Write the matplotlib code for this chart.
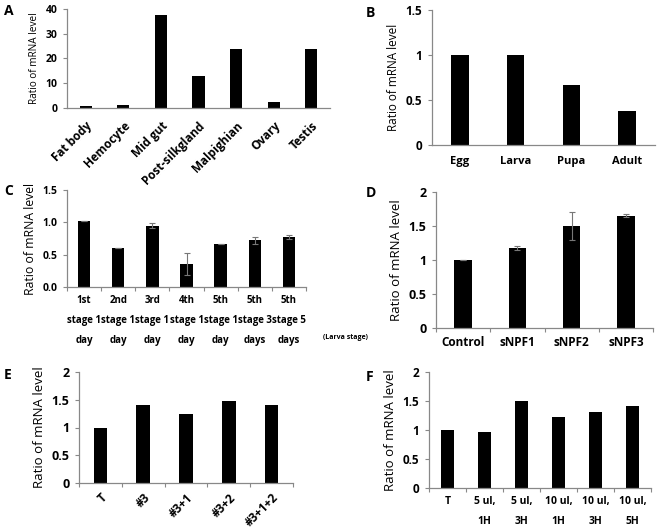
import matplotlib.pyplot as plt

W, H = 659, 532

# Panel data
a_cats = ["Fat body", "Hemocyte", "Mid gut", "Post-silkgland", "Malpighian", "Ovary", "Testis"]
a_vals = [1.0, 1.2, 37.5, 13.0, 24.0, 2.5, 24.0]

b_cats = ["Egg", "Larva", "Pupa", "Adult"]
b_vals = [1.0, 1.0, 0.67, 0.38]

c_cats = ["1st\nstage 1\nday", "2nd\nstage 1\nday", "3rd\nstage 1\nday", "4th\nstage 1\nday",
          "5th\nstage 1\nday", "5th\nstage 3\ndays", "5th\nstage 5\ndays"]
c_vals = [1.02, 0.60, 0.95, 0.36, 0.67, 0.72, 0.77]
c_err = [0.0, 0.0, 0.04, 0.17, 0.0, 0.05, 0.03]

d_cats = ["Control", "sNPF1", "sNPF2", "sNPF3"]
d_vals = [1.0, 1.18, 1.5, 1.65]
d_err = [0.0, 0.03, 0.2, 0.02]

e_cats = ["T", "#3", "#3+1", "#3+2", "#3+1+2"]
e_vals = [1.0, 1.4, 1.25, 1.48, 1.4]

f_cats = ["T", "5 ul,\n1H", "5 ul,\n3H", "10 ul,\n1H", "10 ul,\n3H", "10 ul,\n5H"]
f_vals = [1.0, 0.97, 1.5, 1.22, 1.31, 1.42]

plt.rcParams['font.family'] = ['Open Sans', 'DejaVu Sans']
plt.rcParams['font.weight'] = 'bold'

fig = plt.figure(figsize=(W / 100, H / 100), dpi=100)


def px(x0, y0, x1, y1):
    return [x0 / W, 1 - y1 / H, (x1 - x0) / W, (y1 - y0) / H]


def panel(rect, cats, vals, yticks, yticklabels, width, fs, xfs, lfs, err=None,
          boundary_ticks=True, rot=0, linespacing=1.2):
    ax = fig.add_axes(px(*rect))
    n = len(cats)
    x = list(range(n))
    if err is not None:
        ax.bar(x, vals, width=width, color='black', yerr=err,
               error_kw=dict(ecolor='#777777', elinewidth=0.8, capsize=2, capthick=0.8))
    else:
        ax.bar(x, vals, width=width, color='black')
    ax.set_xlim(-0.5, n - 0.5)
    ax.set_ylim(yticks[0], yticks[-1])
    ax.set_yticks(yticks)
    ax.set_yticklabels(yticklabels, fontsize=fs)
    ax.set_xticks(x)
    if rot:
        ax.set_xticklabels(cats, fontsize=xfs, rotation=rot, ha='right',
                           rotation_mode='anchor')
    else:
        ax.set_xticklabels(cats, fontsize=xfs, linespacing=linespacing)
    ax.tick_params(axis='x', length=0, pad=6)
    ax.tick_params(axis='y', length=3, width=0.8, color='#888888', pad=4)
    if boundary_ticks:
        ax.set_xticks([i - 0.5 for i in range(n + 1)], minor=True)
        ax.tick_params(axis='x', which='minor', length=3, width=0.8, color='#888888')
    for s in ['top', 'right']:
        ax.spines[s].set_visible(False)
    for s in ['left', 'bottom']:
        ax.spines[s].set_color('#888888')
        ax.spines[s].set_linewidth(0.9)
    ax.set_ylabel("Ratio of mRNA level", fontsize=lfs)
    return ax


axA = panel((67, 9, 330, 108), a_cats, a_vals, [0, 10, 20, 30, 40],
            ["0", "10", "20", "30", "40"], 0.32, 7.5, 8.5, 7.2,
            boundary_ticks=False, rot=45)
axA.tick_params(axis='x', pad=8)

axB = panel((432, 10, 655, 145), b_cats, b_vals, [0, 0.5, 1, 1.5],
            ["0", "0.5", "1", "1.5"], 0.31, 8.5, 8, 8.5, boundary_ticks=False)
axB.tick_params(axis='x', pad=8)

axC = panel((67, 190, 306, 287), c_cats, c_vals, [0, 0.5, 1.0, 1.5],
            ["0.0", "0.5", "1.0", "1.5"], 0.36, 7.5, 7, 8.8, err=c_err, linespacing=2.1)
axC.text(1.07, -0.52, "(Larva stage)", transform=axC.transAxes, fontsize=5,
         ha='left', va='center')

axD = panel((436, 192, 653, 328), d_cats, d_vals, [0, 0.5, 1, 1.5, 2],
            ["0", "0.5", "1", "1.5", "2"], 0.32, 9, 8.5, 9.5, err=d_err)

axE = panel((79, 372, 293, 483), e_cats, e_vals, [0, 0.5, 1, 1.5, 2],
            ["0", "0.5", "1", "1.5", "2"], 0.32, 9, 8.5, 9.5, rot=45)

axF = panel((429, 372, 651, 488), f_cats, f_vals, [0, 0.5, 1, 1.5, 2],
            ["0", "0.5", "1", "1.5", "2"], 0.33, 8.5, 7.5, 9.5, linespacing=2.1)

for lab, (x, y) in zip("ABCDEF", [(4, 4), (366, 6), (4, 184), (366, 186), (4, 368), (366, 370)]):
    fig.text(x / W, 1 - y / H, lab, fontsize=10, fontweight='bold', ha='left', va='top')

fig.savefig("out.png", dpi=100)
